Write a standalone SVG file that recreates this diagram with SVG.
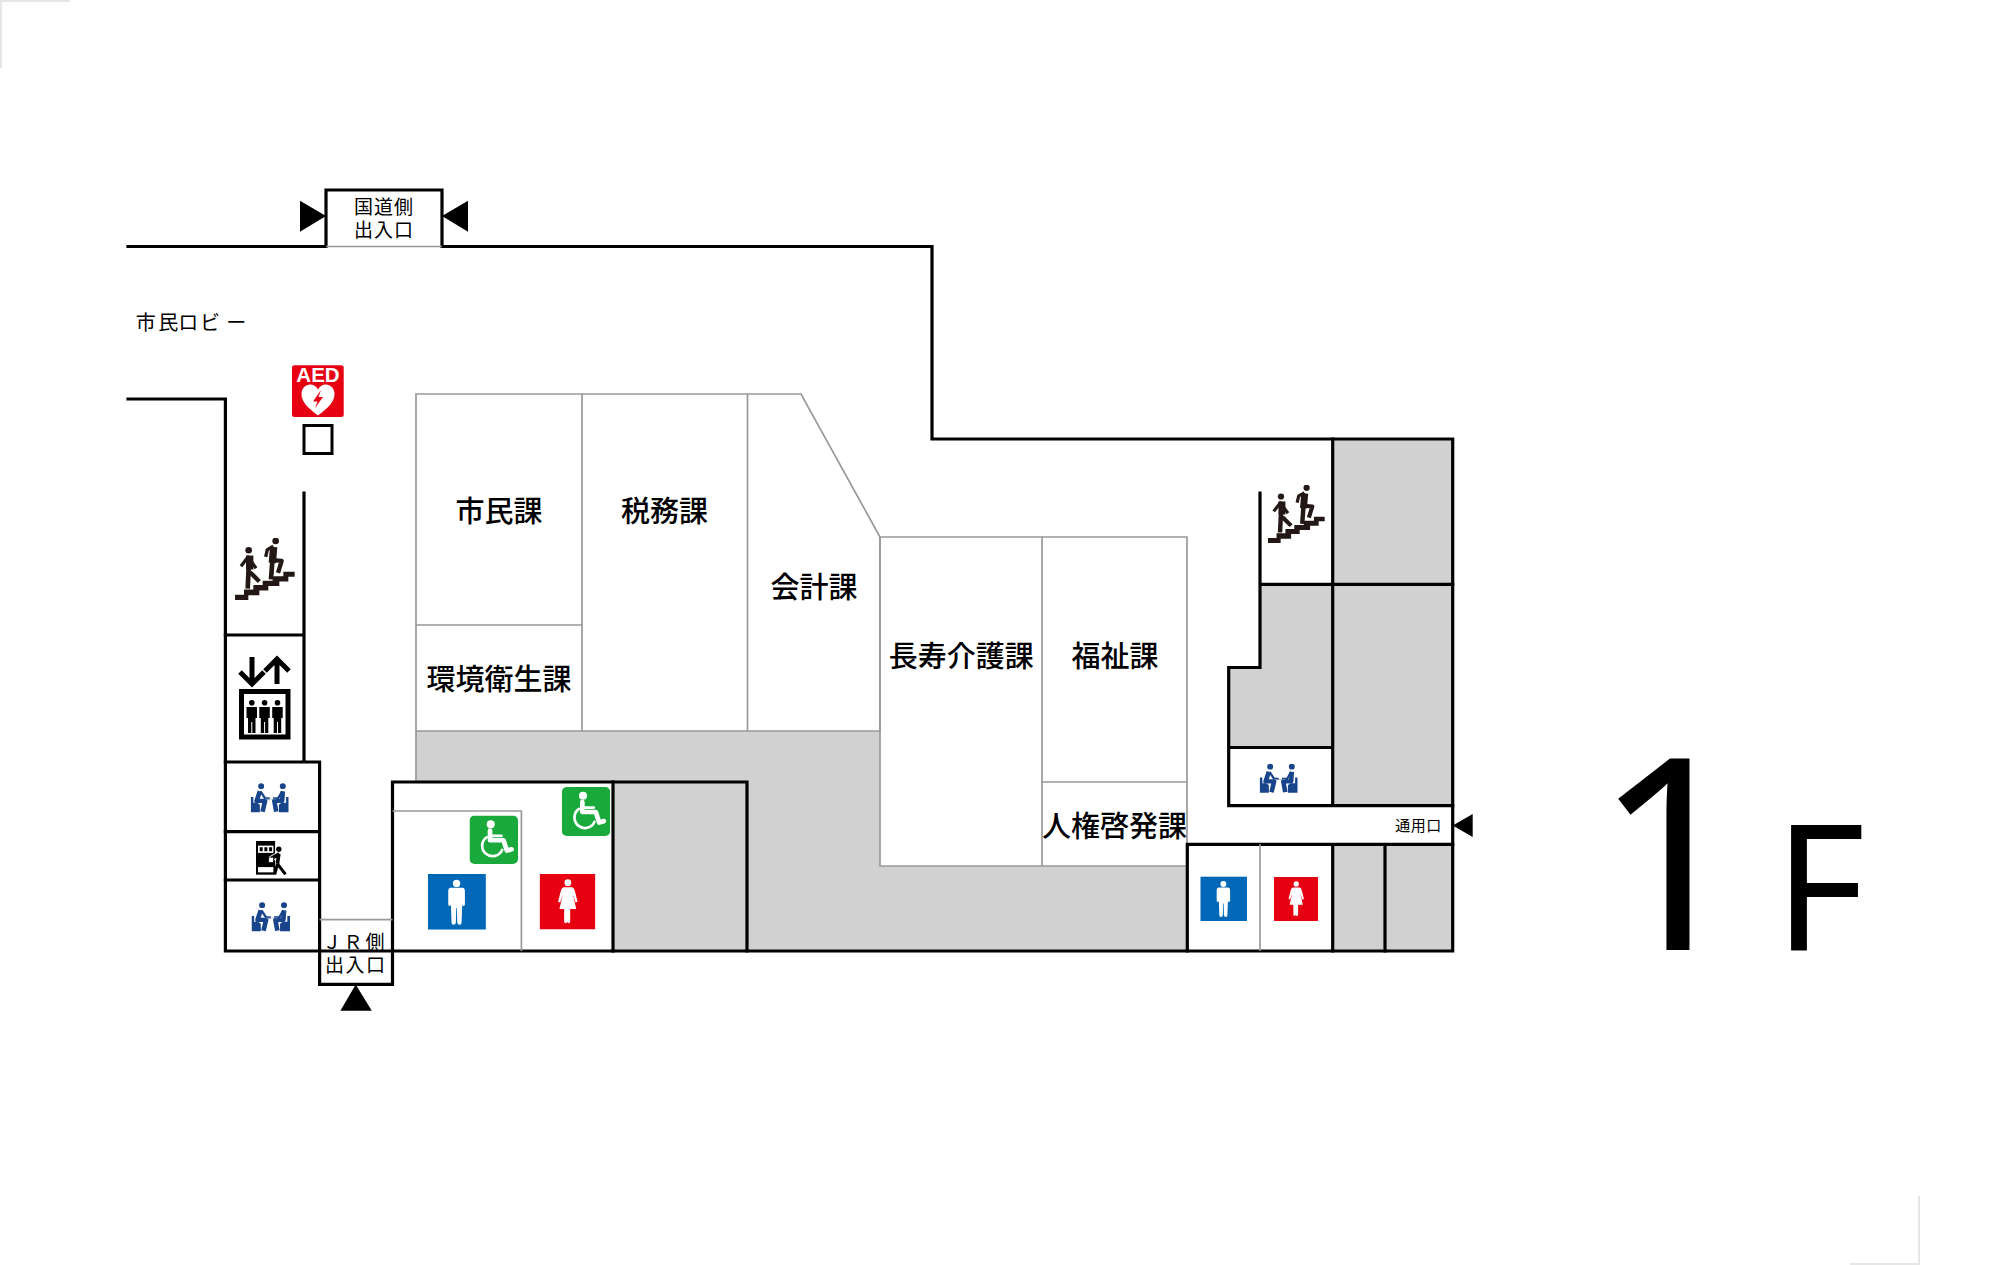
<svg xmlns="http://www.w3.org/2000/svg" width="2000" height="1265" viewBox="0 0 2000 1265">
<style>
.w{fill:none;stroke:#000;stroke-width:3.200;stroke-linecap:square}
.g{fill:none;stroke:#999;stroke-width:1.7}
.s{fill:#d1d1d1}
.t{font-family:"Noto Sans CJK JP","Liberation Sans",sans-serif;fill:#000;text-anchor:middle}
.r{font-size:29px;font-weight:500}
.m{font-family:"Liberation Sans","Noto Sans CJK JP",sans-serif;font-size:19px}
</style>
<defs>
<symbol id="stairs" viewBox="45 55 180 190" preserveAspectRatio="none">
<path fill="#231815" d="M45 242V226H72V210H100V197H128V184H158V170H190V157H224V172H205V186H178V200H145V213H118V228H85V242Z"/>
<g fill="none" stroke="#231815" stroke-width="11" stroke-linejoin="round">
<path d="M63 140L84 112L108 146" stroke-width="10"/><path d="M89 108V150" stroke-width="22"/><path d="M86 145L83 208" stroke-width="14"/><path d="M90 158L118 186" stroke-width="13"/>
<path d="M137 112L142 90L160 80" stroke-width="10"/><path d="M161 82L157 130" stroke-width="22"/><path d="M157 125L153 180" stroke-width="14"/><path d="M158 122L185 124L174 160" stroke-width="13"/>
</g>
<circle cx="86" cy="92" r="10" fill="#231815"/><circle cx="167" cy="64" r="10" fill="#231815"/>
</symbol>
<symbol id="seat" viewBox="92 68 116 94" preserveAspectRatio="none">
<g fill="#17448a">
<path d="M92 112H100V130H112L120 136V160H92Z"/><path d="M178 136L186 130H200V112H208V160H178Z"/>
<circle cx="124" cy="78" r="9"/><circle cx="190" cy="78" r="9"/>
</g>
<g fill="none" stroke="#17448a" stroke-linejoin="round">
<path d="M120 94L110 124H136L128 158" stroke-width="14"/><path d="M122 94L136 116H150" stroke-width="7"/>
<path d="M190 94L188 124H164L170 158" stroke-width="14"/><path d="M188 94L176 116H160" stroke-width="7"/>
<path d="M136 118H170" stroke="#9aa9c4" stroke-width="2"/>
</g>
</symbol>
<symbol id="vend" viewBox="108 243 97 103" preserveAspectRatio="none">
<rect x="108" y="243" width="57" height="102"/>
<rect x="114" y="257" width="46" height="22" fill="#fff"/>
<path d="M119 262h9v12h-9zM133 262h9v12h-9zM147 262h9v12h-9z"/>
<rect x="114" y="322" width="46" height="16" fill="#fff"/>
<circle cx="176" cy="268" r="8"/>
<path d="M178 282L150 298" fill="none" stroke="#fff" stroke-width="16"/>
<path d="M178 282L150 298M176 282L172 312" fill="none" stroke="#000" stroke-width="11" stroke-linejoin="round"/>
<path d="M172 312L164 344M172 312L196 344" fill="none" stroke="#000" stroke-width="9" stroke-linejoin="round"/>
<rect x="146" y="292" width="14" height="16" fill="#fff" stroke="#000" stroke-width="2"/>
</symbol>
<symbol id="wheel" viewBox="149 107 144 145" preserveAspectRatio="none">
<rect x="149" y="107" width="144" height="145" rx="15" fill="#1aaa3c"/>
<circle cx="212" cy="133" r="12" fill="#fff"/>
<g fill="none" stroke="#fff" stroke-linejoin="round" stroke-linecap="round">
<path d="M210 152V181H250L260 212L274 208" stroke-width="14"/><path d="M210 168H244" stroke-width="8"/>
<path d="M200 172A31 31 0 1 0 246 210" stroke-width="8"/>
</g>
</symbol>
<symbol id="man" viewBox="24 283 174 166" preserveAspectRatio="none">
<rect x="24" y="283" width="174" height="166" fill="#0068b7"/>
<circle cx="110" cy="311" r="11" fill="#fff"/>
<path fill="#fff" d="M92 324H128Q135 325 135 334V374Q135 378 131 378Q127 378 127 374V376L125 428Q125 434 119 434Q113 434 112 428L111 384H109L108 428Q107 434 101 434Q95 434 95 428L93 376V374Q93 378 89 378Q85 378 85 374V334Q85 325 92 324Z"/>
</symbol>
<symbol id="woman" viewBox="359 283 166 166" preserveAspectRatio="none">
<rect x="359" y="283" width="166" height="166" fill="#e60012"/>
<circle cx="443" cy="309" r="10" fill="#fff"/>
<path fill="#fff" d="M430 323H456Q462 325 464 334L472 366L466 368L458 344L468 388H450V424Q450 430 445.500 430Q441 430 441 424Q441 430 436.500 430Q432 430 432 424V388H418L428 344L420 368L414 366L422 334Q424 325 430 323Z"/>
</symbol>
</defs>
<rect width="2000" height="1265" fill="#fff"/>
<g id="crop-marks" fill="none" stroke="#e6e6e6" stroke-width="2">
<path d="M70 1H1V68"/><path d="M1850 1264H1919V1196"/>
</g>
<g id="shaded-areas">
<path class="s" d="M416 731H880V866H1187V951H747V782H416Z"/>
<rect class="s" x="613" y="782" width="134" height="169"/>
<rect class="s" x="1332.700" y="439" width="120" height="367"/>
<path class="s" d="M1260 584H1332.700V747.500H1228.700V667.500H1260Z"/>
<rect class="s" x="1332.700" y="844" width="120" height="107"/>
</g>
<g id="rooms">
<g id="room-shimin"><path class="g" d="M416 782V394H582V731"/><path class="g" d="M416 625H582"/><text class="t r" x="499" y="522">市民課</text></g>
<g id="room-kankyo"><path class="g" d="M416 731H880"/><text class="t r" x="499" y="690">環境衛生課</text></g>
<g id="room-zeimu"><path class="g" d="M582 394H747.500V731"/><text class="t r" x="664.500" y="522">税務課</text></g>
<g id="room-kaikei"><path class="g" d="M747.500 394H801L880 537V731"/><text class="t r" x="814" y="598">会計課</text></g>
<g id="room-choju"><path class="g" d="M880 537H1042V866H880Z"/><text class="t r" x="961.200" y="667">長寿介護課</text></g>
<g id="room-fukushi"><path class="g" d="M1042 537H1187V866H1042"/><path class="g" d="M1042 782H1187"/><text class="t r" x="1115" y="667">福祉課</text></g>
<g id="room-jinken"><text class="t r" x="1114.500" y="837">人権啓発課</text></g>
</g>
<g id="walls">
<path class="w" d="M128 246.500H326V190H442V246.500H932V439H1452.700V951H225.400V399H128"/>
<path class="g" d="M326 246.500H442"/>
<path class="w" d="M304 493V762M225.400 635H304M225.400 762H319.600V984.300H392.500V782H747V951M225.400 831.700H319.600M225.400 880H319.600"/>
<path class="g" d="M319.600 919.700H392.500M392.500 811H521.400V951"/>
<path class="w" d="M613 782V951"/>
<path class="w" d="M1332.700 439V805.700M1260 493V667.500H1228.700V805.700H1452.700M1260 584.300H1452.700M1228.700 747.500H1332.700M1187.300 951V844.300H1452.700M1332.700 844.300V951M1385 844.300V951"/>
<path class="g" d="M1260 844.300V951"/>
</g>
<g id="entrance-kokudo">
<path d="M300 200.700L326 216L300 231.700Z"/><path d="M468 200.700L442 216L468 231.700Z"/>
<text class="t m" x="384" y="214" letter-spacing="1">国道側</text><text class="t m" x="384" y="236.500" letter-spacing="1">出入口</text>
</g>
<g id="entrance-jr">
<path d="M355.700 984.500L371.800 1010.700H340.400Z"/>
<text class="t m" x="332 353 375" y="948.500">ＪＲ側</text><text class="t m" x="355.700" y="971.500" letter-spacing="1.500">出入口</text>
</g>
<g id="entrance-tsuyo">
<path d="M1452.700 825.500L1472.700 814V837Z"/>
<text class="t" x="1418.500" y="831" font-size="15" letter-spacing="0.500">通用口</text>
</g>
<g id="lobby"><text class="t" x="145.700 168.300 188.300 210 236.300" y="329.500" font-size="20">市民ロビー</text></g>
<g id="aed">
<rect x="292" y="365.300" width="51.700" height="51.700" rx="2.500" fill="#e60012"/>
<text x="318" y="382" font-family="Liberation Sans,sans-serif" font-weight="700" font-size="20.500" fill="#fff" text-anchor="middle">AED</text>
<path fill="#fff" d="M318 415.500C308 408 301.500 402 301.500 394C301.500 388 306 384.500 310 384.500C314 384.500 316.500 386.500 318 389.500C319.500 386.500 322 384.500 326 384.500C330 384.500 334.500 388 334.500 394C334.500 402 328 408 318 415.500Z"/>
<path fill="#e60012" d="M321 390L313 401.500H317.500L315 408L323 397H318.500Z"/>
<rect x="304" y="425.500" width="28" height="28" fill="#fff" stroke="#000" stroke-width="3"/>
</g>
<g id="stairs-west"><use href="#stairs" x="235" y="538" width="60" height="63"/></g>
<g id="stairs-east"><use href="#stairs" x="1268" y="485" width="57" height="59"/></g>
<g id="elevator">
<path fill="none" stroke="#000" stroke-width="5" d="M252 657V684M240 672L252 684L264 672M277 684V659M265 671L277 659L289 671"/>
<rect x="241.500" y="691.500" width="46.500" height="45.500" fill="#fff" stroke="#000" stroke-width="5"/>
<g id="elevator-people">
<circle cx="251.800" cy="702.700" r="2.800"/><circle cx="264.600" cy="702.700" r="2.800"/><circle cx="277.500" cy="702.700" r="2.800"/>
<path d="M246.500 707H257V718H255.500V733H252.300V722H251.300V733H248V718H246.500Z"/>
<path d="M259.300 707H269.800V718H268.300V733H265.100V722H264.100V733H260.800V718H259.300Z"/>
<path d="M272.200 707H282.700V718H281.200V733H278V722H277V733H273.700V718H272.200Z"/>
</g>
</g>
<g id="seating-1"><use href="#seat" x="250.700" y="783" width="38" height="30"/></g>
<g id="vending"><use href="#vend" x="256" y="841" width="32.500" height="34"/></g>
<g id="seating-2"><use href="#seat" x="251.500" y="902" width="38.500" height="30"/></g>
<g id="seating-3"><use href="#seat" x="1259.700" y="763.500" width="38" height="30"/></g>
<g id="toilet-west">
<use href="#wheel" x="469.500" y="815.500" width="48.500" height="48.500"/>
<use href="#wheel" x="561.800" y="787" width="48.500" height="49"/>
<use href="#man" x="427.900" y="874" width="58" height="55.700"/>
<use href="#woman" x="539.600" y="874" width="55.800" height="55.500"/>
</g>
<g id="toilet-east">
<use href="#man" x="1200.300" y="876.400" width="46.700" height="44.600"/>
<use href="#woman" x="1274" y="877" width="44" height="44"/>
</g>
<g id="floor-label" font-family="Noto Sans,sans-serif" fill="#000">
<text x="1671" y="950" font-size="268" text-anchor="middle">1</text>
<text x="1774" y="950" font-size="176">F</text>
</g>
</svg>
